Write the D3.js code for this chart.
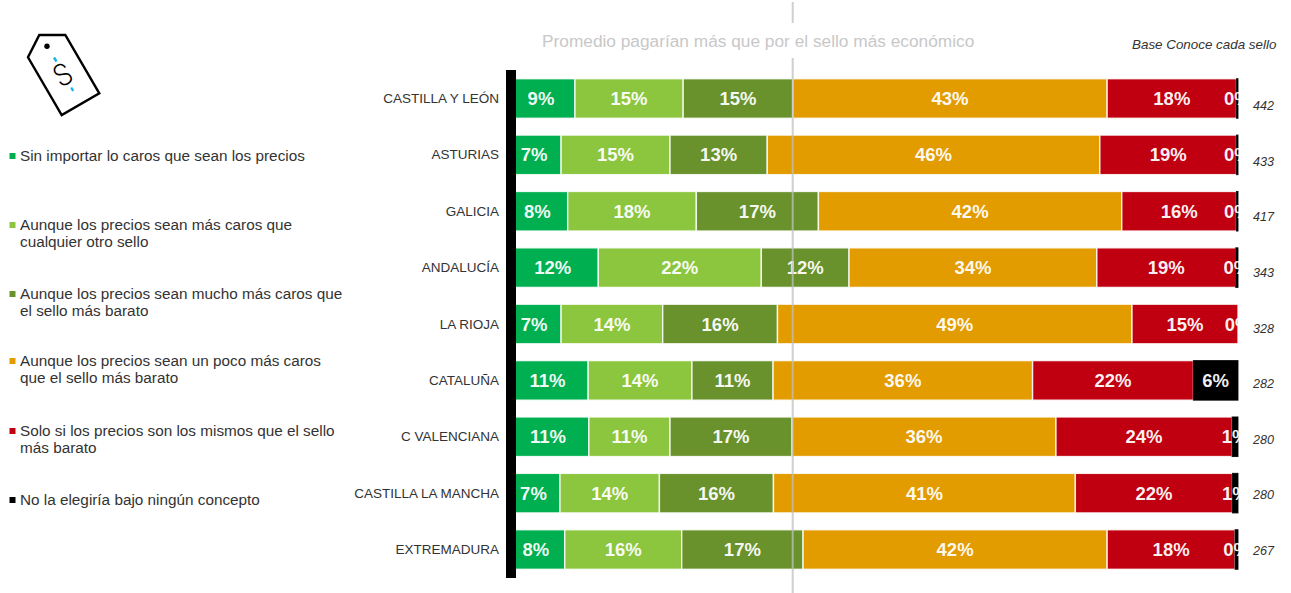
<!DOCTYPE html>
<html lang="es">
<head>
<meta charset="utf-8">
<script src="https://cdn.jsdelivr.net/npm/d3@7"></script>
<style>
  html, body { margin: 0; padding: 0; background: #fff; }
  svg { display: block; font-family: "Liberation Sans", Arial, sans-serif; }
</style>
</head>
<body>
<svg id="chart" width="1291" height="593"></svg>
<script>
// Regiones, base de cada una y reparto de respuestas (%)
const regions = ["CASTILLA Y LEÓN", "ASTURIAS", "GALICIA", "ANDALUCÍA", "LA RIOJA", "CATALUÑA", "C VALENCIANA", "CASTILLA LA MANCHA", "EXTREMADURA"];
const bases = [442, 433, 417, 343, 328, 282, 280, 280, 267];

const sinImportar = [9.3, 7.4, 8.3, 12.49, 7.4, 11.1, 11.2, 7.25, 7.9];
const masCaros    = [14.8, 14.9, 17.6, 22.3, 13.9, 14.2, 11.1, 13.6, 16.0];
const muchoMas    = [15.0, 13.3, 16.7, 12.0, 15.7, 11.1, 16.7, 15.6, 16.6];
const pocoMas     = [43.0, 45.5, 41.5, 33.9, 48.5, 35.5, 36.1, 41.3, 41.6];
const mismos      = [17.7, 18.7, 15.7, 19.0, 14.5, 22.0, 24.1, 21.5, 17.5];
const ninguno     = [0.2, 0.2, 0.2, 0.31, 0.0, 6.1, 0.8, 0.75, 0.4];

const seriesValues = [sinImportar, masCaros, muchoMas, pocoMas, mismos, ninguno];
const seriesColors = ["#00b050", "#8cc63f", "#6a922c", "#e39c00", "#c00010", "#000000"];
const legendLabels = [
  ["Sin importar lo caros que sean los precios"],
  ["Aunque los precios sean más caros que", "cualquier otro sello"],
  ["Aunque los precios sean mucho más caros que", "el sello más barato"],
  ["Aunque los precios sean un poco más caros", "que el sello más barato"],
  ["Solo si los precios son los mismos que el sello", "más barato"],
  ["No la elegiría bajo ningún concepto"]
];
const legendY = [156, 225, 294, 361, 431, 500];

const svg = d3.select("#chart");

const x = d3.scaleLinear().domain([0, 100]).range([507, 1238]);
const y = d3.scaleBand().domain(regions).range([78.7, 569.3]).paddingInner(0.298);
const baseY = d3.scalePoint().domain(regions).range([110, 555]);

// Segmentos apilados por región
const rows = regions.map((region, r) => {
  let acc = 0;
  return seriesValues.map((vals, s) => {
    const seg = { region, s, v: vals[r], x0: acc, x1: acc + vals[r] };
    acc += vals[r];
    return seg;
  });
});

const rowGroups = svg.append("g").selectAll("g")
  .data(rows).join("g");

rowGroups.selectAll("rect")
  .data(d => d.filter(seg => seg.v > 0))
  .join("rect")
  .attr("x", d => x(d.x0))
  .attr("y", d => y(d.region))
  .attr("width", d => x(d.x1) - x(d.x0))
  .attr("height", y.bandwidth())
  .attr("fill", d => seriesColors[d.s])
  .attr("stroke", d => d.s === 5 ? "#000" : "#fff")
  .attr("stroke-opacity", 0.85)
  .attr("stroke-width", d => d.s === 5 ? 1 : 1.4);

// Línea gris del promedio, interrumpida por el título
const avgX = 792.7;
[[2, 23], [58, 593]].forEach(([a, b]) => {
  svg.append("line")
    .attr("x1", avgX).attr("x2", avgX).attr("y1", a).attr("y2", b)
    .attr("stroke", "#bfbfbf").attr("stroke-opacity", 0.75).attr("stroke-width", 2);
});

// Etiquetas de porcentaje
rowGroups.selectAll("text")
  .data(d => d)
  .join("text")
  .attr("x", d => x((d.x0 + d.x1) / 2))
  .attr("y", d => y(d.region) + y.bandwidth() / 2 + 6.5)
  .attr("text-anchor", "middle")
  .attr("font-size", 18.5)
  .attr("font-weight", 700)
  .attr("fill", "#fff")
  .attr("fill-opacity", 0.95)
  .text(d => Math.round(d.v) + "%");

// Barra negra del eje vertical
svg.append("rect")
  .attr("x", 506).attr("y", 70).attr("width", 10).attr("height", 508)
  .attr("fill", "#000");

// Nombres de región
svg.append("g").selectAll("text")
  .data(regions).join("text")
  .attr("x", 499)
  .attr("y", d => y(d) + y.bandwidth() / 2 + 4.5)
  .attr("text-anchor", "end")
  .attr("font-size", 13.5)
  .attr("fill", "#333")
  .text(d => d);

// Base de cada región
svg.append("g").selectAll("text")
  .data(regions).join("text")
  .attr("x", 1253)
  .attr("y", d => baseY(d))
  .attr("font-size", 12.6)
  .attr("font-style", "italic")
  .attr("fill", "#333")
  .text((d, i) => bases[i]);

svg.append("text")
  .attr("x", 1132).attr("y", 48.5)
  .attr("font-size", 13.4)
  .attr("font-style", "italic")
  .attr("fill", "#333")
  .text("Base Conoce cada sello");

svg.append("text")
  .attr("x", 542).attr("y", 47)
  .attr("font-size", 17.3)
  .attr("fill", "#c8c8c8")
  .text("Promedio pagarían más que por el sello más económico");

// Leyenda
const legend = svg.append("g").selectAll("g")
  .data(legendLabels).join("g")
  .attr("transform", (d, i) => `translate(0,${legendY[i]})`);

legend.append("rect")
  .attr("x", 9.5).attr("y", -3).attr("width", 6).attr("height", 6)
  .attr("fill", (d, i) => seriesColors[i]);

legend.selectAll("text")
  .data(d => d).join("text")
  .attr("x", 20)
  .attr("y", (d, i) => 4.5 + i * 17.5)
  .attr("font-size", 15.3)
  .attr("fill", "#333")
  .text(d => d);

// Icono de la etiqueta de precio
const tag = svg.append("g");
tag.append("path")
  .attr("d", "M39.3,35 L65.3,35 L99.3,93.3 L61.7,115 L28,57.3 Z")
  .attr("fill", "#fff").attr("stroke", "#000").attr("stroke-width", 2.4).attr("stroke-linejoin", "miter");
tag.append("circle").attr("cx", 47).attr("cy", 46.3).attr("r", 2.7).attr("fill", "#000");
[[54, 57.5, 56.5, 61.5], [71.2, 87.5, 73.2, 91]].forEach(([a, b, c, d]) => {
  tag.append("line")
    .attr("x1", a).attr("y1", b).attr("x2", c).attr("y2", d)
    .attr("stroke", "#19b5e8").attr("stroke-width", 2.4);
});
tag.append("text")
  .attr("transform", "translate(62.5,74.5) rotate(-30) scale(0.85,1)")
  .attr("text-anchor", "middle").attr("dy", "0.36em")
  .attr("font-size", 31)
  .attr("font-family", "Roboto, 'Liberation Sans', sans-serif")
  .attr("font-weight", 300)
  .attr("fill", "#000")
  .text("S");
</script>
</body>
</html>
